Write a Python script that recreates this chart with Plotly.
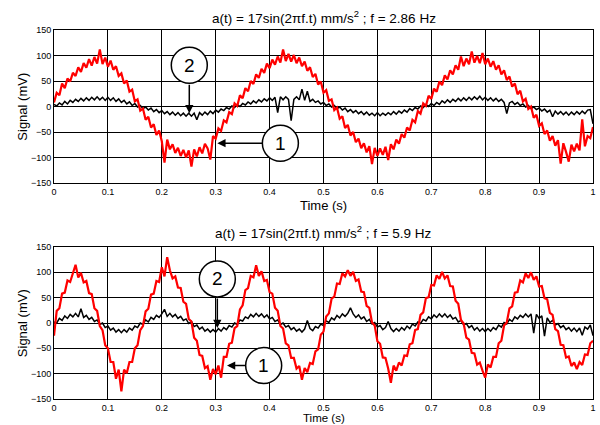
import numpy as np
import plotly.graph_objects as go

# sampling grid (s)
time_s = np.round(np.arange(201) * 0.005, 3)

# Top panel, f = 2.86 Hz (mV)
top_red = [8,27,22,45,36,55,49,66,60,77,68,85,76,93,80,97,84,112,83,96,
           78,90,72,79,60,65,45,51,29,33,10,14,-8,-4,-26,-20,-41,-35,-56,-47,
           -68,-110,-65,-84,-74,-91,-81,-97,-85,-100,-86,-118,-84,-98,-80,-92,-73,-82,-104,-58,
           -63,-43,-48,-27,-31,-11,-15,6,1,22,16,36,30,50,44,63,56,74,66,84,
           75,92,82,98,86,112,89,103,88,101,85,96,79,88,70,77,58,64,43,49,
           27,32,11,14,-7,-2,-24,-19,-42,-36,-57,-50,-70,-63,-82,-72,-90,-78,-113,-81,
           -97,-82,-95,-79,-105,-74,-84,-65,-73,-54,-61,-41,-47,-26,-31,-9,-14,6,1,21,
           15,35,29,49,42,61,53,71,63,81,72,98,79,94,83,108,86,99,85,105,
           83,94,78,89,72,81,63,71,52,59,39,45,24,31,10,15,-5,0,-22,-16,
           -38,-33,-54,-47,-67,-58,-77,-66,-112,-72,-89,-108,-75,-88,-73,-86,-25,-78,-58,-62,-40]
top_black = [4,1,7,3,10,5,12,8,14,10,16,11,17,12,18,13,19,13,18,12,
             18,12,17,10,15,8,12,5,9,2,6,-1,2,-4,-1,-7,-3,-10,-6,-12,
             -8,-14,-10,-16,-11,-17,-12,-18,-13,-19,-13,-19,-13,-26,-12,-17,-11,-16,-9,-14,
             -7,-11,-5,-8,-2,-5,1,-2,4,0,6,3,9,5,11,7,13,9,15,11,
             17,12,18,-12,19,13,19,14,-28,14,19,13,34,12,30,10,14,8,11,5,
             8,2,5,-1,2,-4,-1,-7,-3,-10,-6,-12,-8,-14,-10,-16,-11,-17,-13,-18,
             -12,-18,-13,-17,-12,-16,-10,-15,-9,-13,-7,-11,-4,-8,-2,-5,1,-2,4,0,
             6,2,8,4,11,7,13,8,14,10,16,11,17,12,18,13,19,14,20,13,
             18,12,17,11,16,10,14,8,-14,7,10,4,8,2,5,-1,2,-4,-1,-6,
             -3,-9,-5,-11,-7,-20,-9,-15,-10,-16,-11,-17,-11,-16,-10,-15,-9,-14,-7,-6,-34]

# Bottom panel, f = 5.9 Hz (mV)
bot_red = [-25,24,29,58,60,84,81,100,115,90,99,80,83,59,57,29,24,-6,-14,-44,
           -50,-77,-77,-110,-92,-135,-92,-99,-77,-77,-50,-44,-14,-6,23,28,56,58,83,81,
           110,92,130,104,88,92,70,69,42,38,8,3,-29,-35,-63,-65,-89,-85,-112,-91,
           -101,-84,-108,-67,-67,-41,-39,-10,-6,27,35,65,69,93,90,114,93,102,83,85,
           61,58,30,24,-6,-11,-40,-44,-69,-69,-90,-85,-112,-89,-97,-79,-81,-56,-52,-23,
           -17,13,19,48,52,78,77,98,92,104,93,101,83,86,62,61,34,30,1,-5,
           -36,-41,-68,-69,-90,-118,-84,-94,-78,-84,-64,-65,-42,-40,-14,-12,16,21,49,51,
           75,74,94,87,101,88,94,73,72,44,38,6,-1,-29,-33,-59,-60,-82,-78,-94,
           -108,-82,-88,-67,-67,-40,-35,-5,1,29,33,60,61,84,80,98,89,100,85,92,
           72,73,49,47,20,16,-12,-16,-43,-44,-68,-66,-85,-78,-91,-77,-83,-62,-63,-40,-35]
bot_black = [2,0,9,5,14,9,17,12,19,12,28,11,15,7,11,3,6,-3,0,-9,
             -6,-14,-10,-18,-13,-19,-13,-18,-10,-14,-6,-9,0,-3,6,2,11,7,15,11,
             18,27,13,19,12,17,9,13,5,8,-1,3,-7,-4,-12,-8,-16,-12,-18,-13,
             -18,-11,-16,-9,-13,-5,-8,0,-3,6,4,12,9,17,12,19,13,18,11,16,
             8,11,3,6,-3,0,-8,-5,-13,-9,-16,-12,-18,-12,5,-11,-15,-7,-10,-2,
             -5,4,1,10,6,15,10,18,13,19,30,18,11,16,8,12,3,7,-2,1,
             -8,-5,-13,-9,3,-11,-17,-11,-16,-9,-14,-6,-11,-2,-6,2,-1,7,4,12,
             8,16,11,18,12,18,11,16,8,11,2,5,-4,-1,-9,-5,-14,-9,-16,-11,
             -17,-11,-16,-9,-13,-4,-8,1,-2,7,3,12,8,15,11,18,12,18,-20,17,
             9,14,-26,10,1,5,-4,-1,-9,-5,-13,-9,-16,-10,-17,-10,-24,-8,-12,-4,-25]

titles = ["a(t) = 17sin(2\u03c0f.t) mm/s<sup>2</sup> ; f = 2.86 Hz",
          "a(t) = 17sin(2\u03c0f.t) mm/s<sup>2</sup> ; f = 5.9 Hz"]
x_ticks = [0, 0.1, 0.2, 0.3, 0.4, 0.5, 0.6, 0.7, 0.8, 0.9, 1]
x_ticklabels = ["0", "0.1", "0.2", "0.3", "0.4", "0.5", "0.6", "0.7", "0.8", "0.9", "1"]
y_ticks = [-150, -100, -50, 0, 50, 100, 150]

# callout markers: (label, circle x, circle y, arrow tip x, arrow tip y, ax, ay)
callouts_top = [("2", 0.251, 81, 0.251, -13, 0, -30), ("1", 0.42, -72, 0.303, -72, 47, 0)]
callouts_bot = [("2", 0.303, 87, 0.303, -10, 0, -31), ("1", 0.389, -84, 0.321, -84, 20, 0)]

FONT = "Arial, Liberation Sans, sans-serif"
fig = go.Figure()
fig.add_trace(go.Scatter(x=time_s, y=top_black, mode="lines", line=dict(color="black", width=1.5), xaxis="x", yaxis="y", showlegend=False))
fig.add_trace(go.Scatter(x=time_s, y=top_red, mode="lines", line=dict(color="#ff0000", width=2.2), xaxis="x", yaxis="y", showlegend=False))
fig.add_trace(go.Scatter(x=time_s, y=bot_black, mode="lines", line=dict(color="black", width=1.5), xaxis="x2", yaxis="y2", showlegend=False))
fig.add_trace(go.Scatter(x=time_s, y=bot_red, mode="lines", line=dict(color="#ff0000", width=2.2), xaxis="x2", yaxis="y2", showlegend=False))

ax_common = dict(showline=True, linecolor="black", linewidth=1, mirror=True,
                 showgrid=True, gridcolor="black", gridwidth=1, zeroline=False,
                 ticks="", tickfont=dict(family=FONT, size=9, color="black"))
top_dom = [216/369, 1.0]
bot_dom = [0.0, 152/369]
fig.update_layout(
    width=600, height=425,
    margin=dict(l=54, r=4, t=30, b=26),
    paper_bgcolor="white", plot_bgcolor="white",
    xaxis=dict(domain=[0, 1], anchor="y", range=[0, 1], tickvals=x_ticks, ticktext=x_ticklabels, **ax_common),
    yaxis=dict(domain=top_dom, anchor="x", range=[-150, 150], tickvals=y_ticks, **ax_common),
    xaxis2=dict(domain=[0, 1], anchor="y2", range=[0, 1], tickvals=x_ticks, ticktext=x_ticklabels, **ax_common),
    yaxis2=dict(domain=bot_dom, anchor="x2", range=[-150, 150], tickvals=y_ticks, **ax_common),
)

ann = []
shapes = []
for title, ty in zip(titles, [(399 - 17) / 369, (399 - 232) / 369]):
    ann.append(dict(text=title, xref="paper", yref="paper", x=0.5, y=ty, showarrow=False,
                    font=dict(family=FONT, size=13.5, color="black"), xanchor="center", yanchor="middle"))
for ty, fs in [((399 - 205) / 369, 13), ((399 - 418) / 369, 11.5)]:
    ann.append(dict(text="Time (s)", xref="paper", yref="paper", x=0.5, y=ty, showarrow=False,
                    font=dict(family=FONT, size=fs, color="black"), xanchor="center", yanchor="middle"))
for ty in [(399 - 106.5) / 369, (399 - 323) / 369]:
    ann.append(dict(text="Signal (mV)", xref="paper", yref="paper", x=(22 - 54) / 542, y=ty, showarrow=False,
                    textangle=-90, font=dict(family=FONT, size=13, color="black"), xanchor="center", yanchor="middle"))

for callouts, xr, yr in [(callouts_top, "x", "y"), (callouts_bot, "x2", "y2")]:
    for lab, cx, cy, tx, ty, axp, ayp in callouts:
        ann.append(dict(text="", x=tx, y=ty, xref=xr, yref=yr, ax=axp, ay=ayp, showarrow=True,
                        arrowhead=2, arrowsize=1.1, arrowwidth=1.5, arrowcolor="black", standoff=0))
        shapes.append(dict(type="circle", xref=xr, yref=yr, xsizemode="pixel", ysizemode="pixel",
                           xanchor=cx, yanchor=cy, x0=-18, x1=18, y0=-18, y1=18,
                           line=dict(color="black", width=1.5), fillcolor="white", layer="above"))
        ann.append(dict(text=lab, x=cx, y=cy, xref=xr, yref=yr, showarrow=False,
                        font=dict(family=FONT, size=19, color="black"), xanchor="center", yanchor="middle"))

fig.update_layout(annotations=ann, shapes=shapes)
fig.write_html("out.html")
